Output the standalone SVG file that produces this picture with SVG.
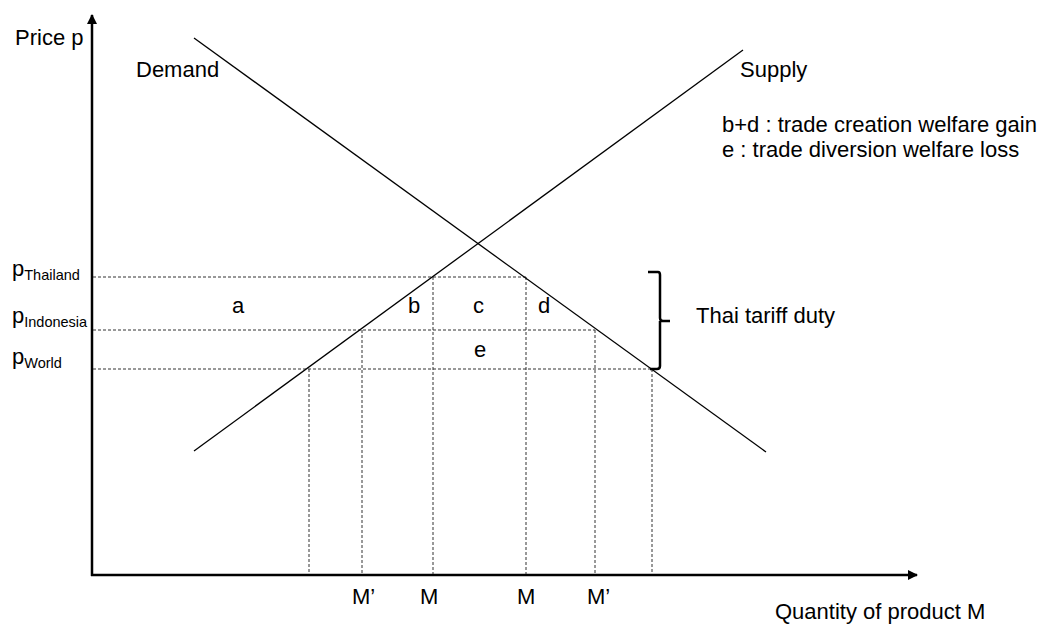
<svg xmlns="http://www.w3.org/2000/svg" width="1048" height="625" viewBox="0 0 1048 625">
<defs>
<style>
text{font-family:"Liberation Sans",Arial,sans-serif;font-size:22px;fill:#000}
.sub{font-size:14.5px}
.curve{stroke:#000;stroke-width:1.3;fill:none}
.dash{stroke:#333;stroke-width:1;stroke-dasharray:3,2;fill:none}
.axis{stroke:#000;stroke-width:2.5;fill:none}
</style>
<marker id="arr" viewBox="0 0 10 10" refX="9" refY="5" markerWidth="4" markerHeight="4" orient="auto" markerUnits="strokeWidth">
<path d="M0,0 L10,5 L0,10 z" fill="#000"/>
</marker>
</defs>
<rect width="1048" height="625" fill="#fff"/>
<g id="axes">
<line class="axis" x1="92" y1="576" x2="92" y2="15" marker-end="url(#arr)"/>
<line class="axis" x1="91" y1="575" x2="917" y2="575" marker-end="url(#arr)"/>
<text x="15" y="45">Price p</text>
<text x="775" y="619">Quantity of product M</text>
</g>
<g id="connectors">
<g id="guides">
<line class="dash" x1="93" y1="277" x2="526" y2="277"/>
<line class="dash" x1="93" y1="330" x2="595" y2="330"/>
<line class="dash" x1="93" y1="369" x2="652" y2="369"/>
<line class="dash" x1="309" y1="369" x2="309" y2="574"/>
<line class="dash" x1="362" y1="330" x2="362" y2="574"/>
<line class="dash" x1="433" y1="277" x2="433" y2="574"/>
<line class="dash" x1="526" y1="277" x2="526" y2="574"/>
<line class="dash" x1="595" y1="330" x2="595" y2="574"/>
<line class="dash" x1="652" y1="369" x2="652" y2="574"/>
</g>
<line id="demand-line" class="curve" x1="194" y1="38" x2="766" y2="452"/>
<line id="supply-line" class="curve" x1="194" y1="451" x2="743" y2="50"/>
<path id="brace" d="M648,272 L658,272 Q660,272 660,275 L660,318 Q660,321 663,321 L670,321 M660,321 Q660,321 660,324 L660,366 Q660,369 657,369 L650,369" fill="none" stroke="#000" stroke-width="2.5"/>
</g>
<g id="demand"><text x="136" y="77">Demand</text></g>
<g id="supply"><text x="740" y="77">Supply</text></g>
<g id="legend">
<text x="722" y="132">b+d : trade creation welfare gain</text>
<text x="722" y="157">e : trade diversion welfare loss</text>
</g>
<g id="price-labels">
<text x="12" y="276">p<tspan class="sub" dy="4">Thailand</tspan></text>
<text x="12" y="323">p<tspan class="sub" dy="4">Indonesia</tspan></text>
<text x="12" y="364">p<tspan class="sub" dy="4">World</tspan></text>
</g>
<g id="areas">
<text x="232" y="313">a</text>
<text x="408" y="313">b</text>
<text x="473" y="313">c</text>
<text x="538" y="313">d</text>
<text x="474" y="357">e</text>
</g>
<g id="tariff"><text x="696" y="323">Thai tariff duty</text></g>
<g id="quantity-labels">
<text x="352" y="604">M’</text>
<text x="420" y="604">M</text>
<text x="517" y="604">M</text>
<text x="587" y="604">M’</text>
</g>
</svg>
